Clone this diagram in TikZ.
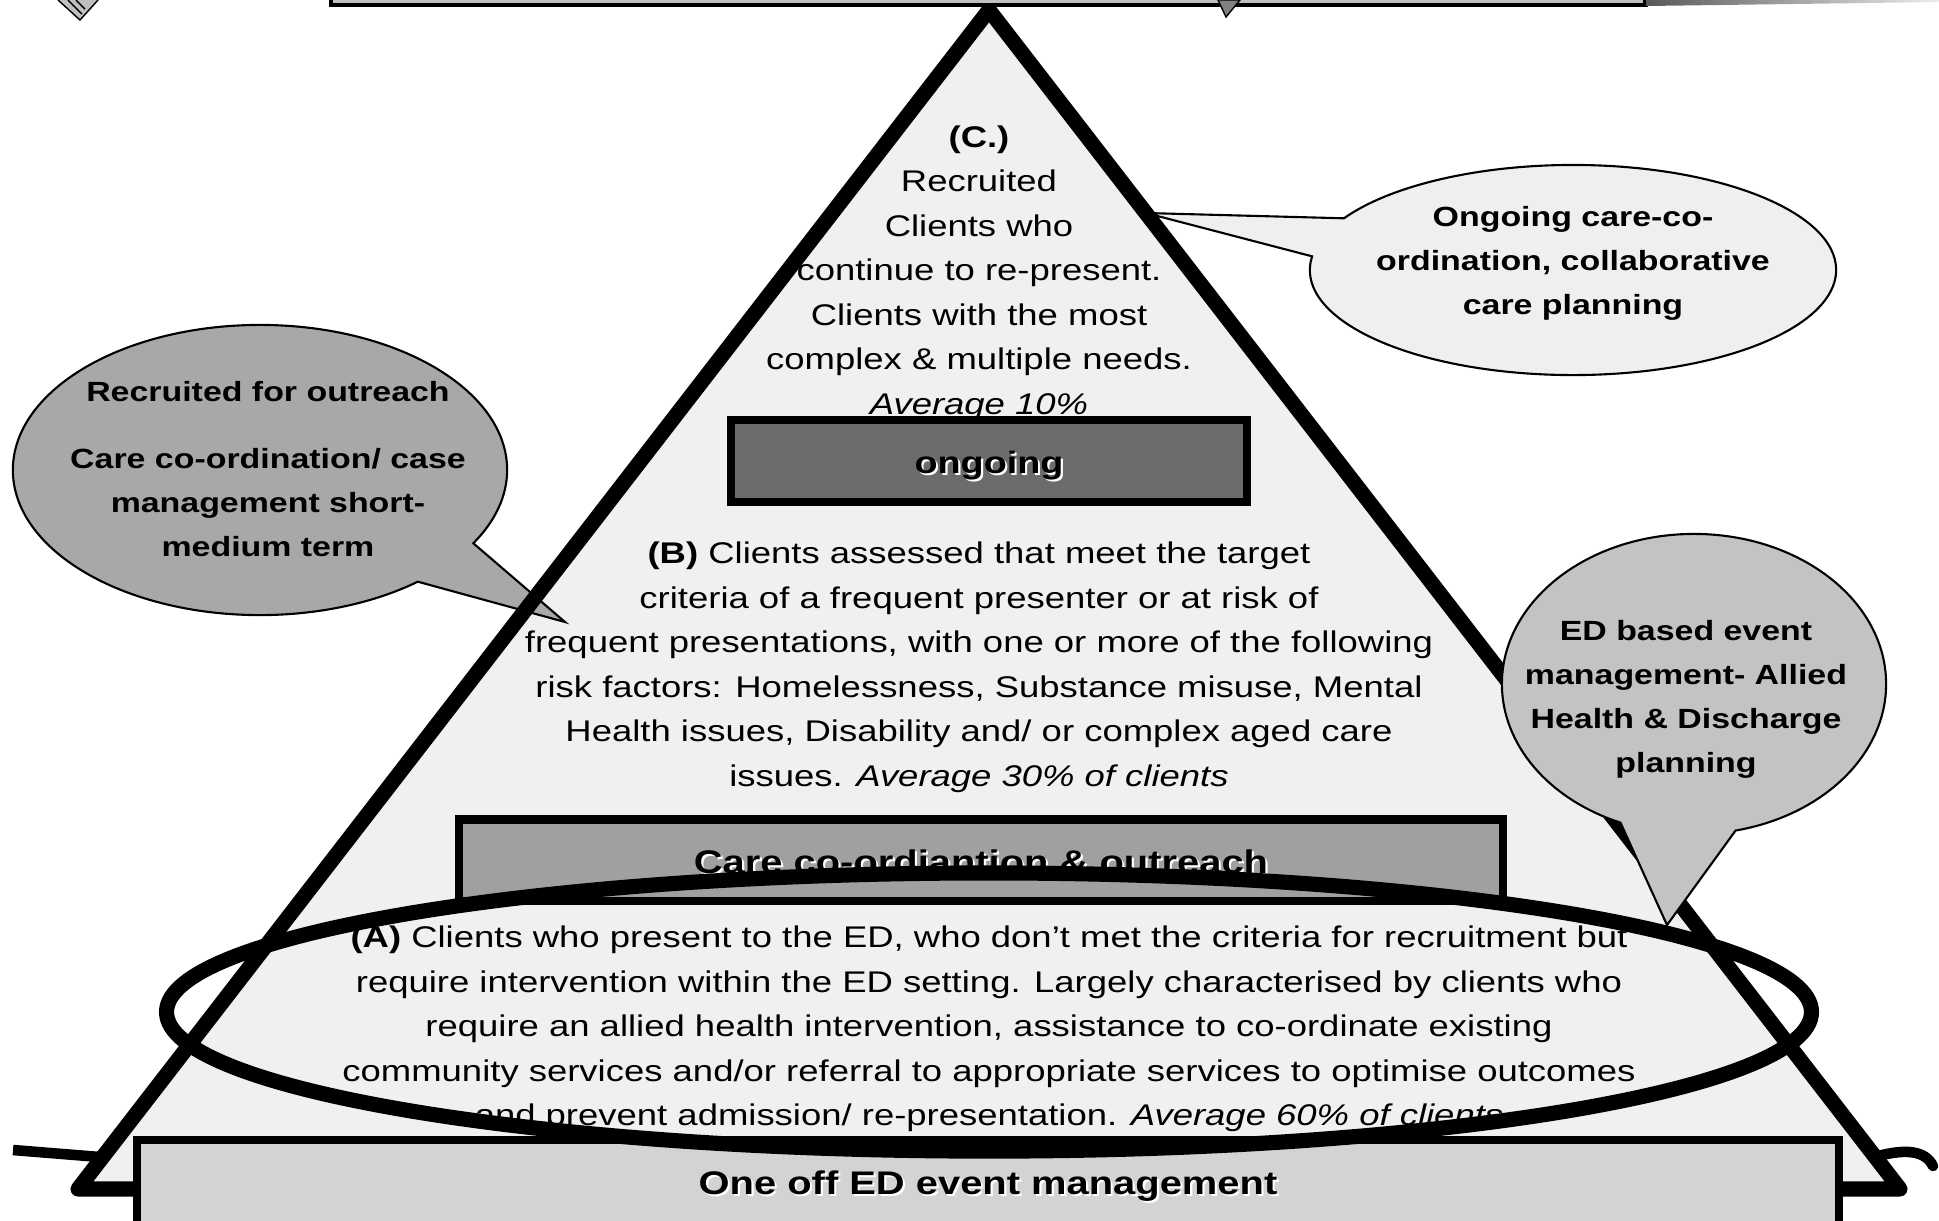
\documentclass[tikz,border=0pt]{standalone}
\usepackage{fontspec}
\setmainfont{Liberation Sans}[FakeStretch=1.22]
\usetikzlibrary{positioning,shapes.geometric,shapes.callouts}
\definecolor{pyrfill}{HTML}{F0F0F0}
\definecolor{ongoingfill}{HTML}{6C6C6C}
\definecolor{carefill}{HTML}{A0A0A0}
\definecolor{edfill}{HTML}{D3D3D3}
\definecolor{topfill}{HTML}{C0C0C0}
\definecolor{bubbleL}{HTML}{A8A8A8}
\definecolor{bubbleT}{HTML}{EFEFEF}
\definecolor{bubbleR}{HTML}{C3C3C3}
\tikzset{
  band/.style={draw, line width=2.3pt, inner sep=0pt},
  bandlabel/.style={font=\fontsize{9.3}{11}\selectfont\bfseries, inner sep=0pt},
  bandshade/.style={bandlabel, white, xshift=0.6pt, yshift=-0.6pt},
  bodytext/.style={align=center, font=\fontsize{8.5}{12.66}\selectfont, inner sep=0pt},
  bubble/.style={ellipse callout, draw, line width=0.6pt, inner sep=0pt},
  bubbletext/.style={align=center, font=\fontsize{7.9}{12.5}\selectfont\bfseries, inner sep=0pt}
}
\begin{document}
\begin{tikzpicture}[x=0.01cm, y=-0.01cm]
          \useasboundingbox (0,0) rectangle (1939,1220);
          \coordinate (apex) at (989,10);
          \coordinate (baseL) at (78,1189);
          \coordinate (baseR) at (1900,1189);
          \coordinate (tipL) at (565,622);
          \coordinate (tipT) at (1146,213);
          \coordinate (tipR) at (1667,925);

          \fill[pyrfill] (apex) -- (baseL) -- (baseR) -- cycle;
          \node (outreach) [bubble, fill=bubbleL, minimum width=4.94cm, minimum height=2.9cm,
                callout absolute pointer={(tipL)}, callout pointer arc=20] at (260,470) {};
          \draw[line width=4.3pt, line join=round] (apex) -- (baseL) -- (baseR) -- cycle;
          \draw[line width=3pt] (13,1150) -- (100,1157);
          \draw[line width=3pt, line cap=round] (1878,1156) .. controls (1905,1149) and (1925,1150) .. (1933,1166);

          \node (ongoing) [band, fill=ongoingfill, minimum width=5.16cm, minimum height=0.82cm] at (989,461) {};
          \node (care) [band, fill=carefill, minimum width=10.44cm, minimum height=0.81cm] at (981,860) {};
          \node (oneoff) [band, fill=edfill, minimum width=17.01cm, minimum height=1cm] at (988,1190) {};

          \node (ongoingshade) [bandshade, yshift=-1.4pt, font=\fontsize{8.8}{11}\selectfont\bfseries] at (ongoing) {ongoing};
          \node (ongoinglabel) [bandlabel, yshift=-1.4pt, font=\fontsize{8.8}{11}\selectfont\bfseries] at (ongoing) {ongoing};
          \node (careshade) [bandshade, yshift=-0.6pt] at (care) {Care co-ordiantion \& outreach};
          \node (carelabel) [bandlabel, yshift=-0.6pt] at (care) {Care co-ordiantion \& outreach};
          \node (oneoffshade) [bandshade, yshift=1.1pt] at (oneoff) {One off ED event management};
          \node (oneofflabel) [bandlabel, yshift=1.1pt] at (oneoff) {One off ED event management};

          \node (groupC) [bodytext, above of=ongoing, node distance=1.88cm, xshift=-0.1cm]
                {\textbf{(C.)}\\ Recruited\\ Clients who\\ continue to re-present.\\ Clients with the most\\
                 complex \& multiple needs.\\ \textit{Average 10\%}};
          \node (groupB) [bodytext, below of=ongoing, node distance=2.06cm, xshift=-0.1cm]
                {\textbf{(B)} Clients assessed that meet the target\\ criteria of a frequent presenter or at risk of\\
                 frequent presentations, with one or more of the following\\ risk factors: Homelessness, Substance misuse, Mental\\
                 Health issues, Disability and/ or complex aged care\\ issues. \textit{Average 30\% of clients}};
          \node (groupA) [bodytext, below of=care, node distance=1.69cm, xshift=0.08cm]
                {\textbf{(A)} Clients who present to the ED, who don’t met the criteria for recruitment but\\
                 require intervention within the ED setting. Largely characterised by clients who\\
                 require an allied health intervention, assistance to co-ordinate existing\\
                 community services and/or referral to appropriate services to optimise outcomes\\
                 and prevent admission/ re-presentation. \textit{Average 60\% of clients}};

          \node (ring) [draw, ellipse, line width=4.3pt, minimum width=16.44cm, minimum height=2.78cm, inner sep=0pt] at (989,1012) {};

          \node (planning) [bubble, fill=bubbleT, minimum width=5.26cm, minimum height=2.1cm,
                callout absolute pointer={(tipT)}, callout pointer arc=22] at (1573,270) {};
          \node (discharge) [bubble, fill=bubbleR, minimum width=3.84cm, minimum height=3cm,
                callout absolute pointer={(tipR)}, callout pointer arc=35] at (1694,684) {};

          \node (outreachtext) [bubbletext] at (268,469)
                {Recruited for outreach\\[6.7pt] Care co-ordination/ case\\ management short-\\ medium term};
          \node (planningtext) [bubbletext] at (1573,263) {Ongoing care-co-\\ ordination, collaborative\\ care planning};
          \node (dischargetext) [bubbletext] at (1686,699) {ED based event\\ management- Allied\\ Health \& Discharge\\ planning};

          \node (header) [draw, line width=1.2pt, fill=topfill, minimum width=13.14cm, minimum height=0.4cm, anchor=south] at (988,7) {};
          \fill[gray!50] (58,0) -- (98,0) -- (80,20) -- cycle;
          \draw[line width=0.4pt] (58,0) -- (80,20) -- (98,0) (68,0) -- (82,14) (76,0) -- (85,9);
          \filldraw[fill=gray, line width=0.4pt] (1218,0) -- (1240,0) -- (1226,17) -- cycle;
          \shade[left color=gray!70!black, right color=gray!15] (1646,0) -- (1646,6) -- (1939,2) -- (1939,0) -- cycle;
\end{tikzpicture}
\end{document}
